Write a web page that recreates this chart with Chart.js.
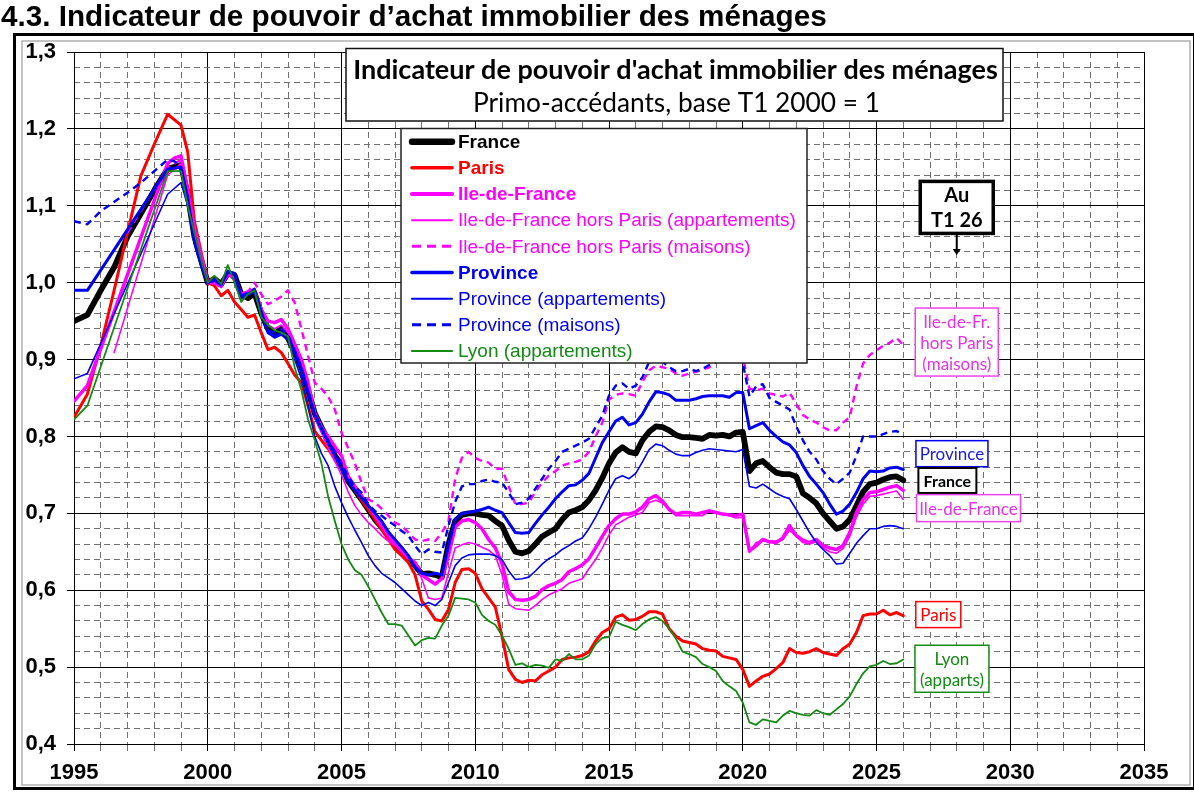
<!DOCTYPE html>
<html><head><meta charset="utf-8">
<script src="https://cdn.jsdelivr.net/npm/chart.js@4.4.1/dist/chart.umd.min.js"></script>
<style>html,body{margin:0;padding:0;background:#fff;overflow:hidden}#wrap{width:1194px;height:796px;position:relative}</style>
</head><body><div id="wrap"><canvas id="c" width="1194" height="796"></canvas></div>
<script>
const N = null;
// x positions: quarters T1 1995 ... T1 2026 (decimal years)
const firstYear = 1995, lastYear = 2026;
const quarters = [];
for (let y = firstYear; y <= lastYear; y++) for (let q = 0; q < 4; q++) { if (y === lastYear && q > 0) break; quarters.push(y + q / 4); }

const seriesNames = ['France','Paris','Ile-de-France','Ile-de-France hors Paris (appartements)','Ile-de-France hors Paris (maisons)','Province','Province (appartements)','Province (maisons)','Lyon (appartements)'];

const france = [
 0.950,N,0.958,N, 0.990,N,1.020,N, 1.060,N,1.090,N, 1.120,N,1.148,N,
 1.153,1.115,1.060,1.030, 1.000,1.005,0.998,1.012, 1.010,0.985,0.980,0.986, 0.960,0.940,0.933,0.940,
 0.928,0.910,0.890,0.860, 0.830,0.812,0.795,0.775, 0.762,0.742,0.730,0.718, 0.705,0.692,0.682,0.671,
 0.662,0.650,0.640,0.632, 0.621,0.622,0.620,0.617, 0.660,0.690,0.698,0.700, 0.700,0.698,0.697,0.690,
 0.684,0.665,0.650,0.648, 0.651,0.660,0.670,0.675, 0.680,0.692,0.701,0.704, 0.708,0.717,0.730,0.746,
 0.765,0.779,0.786,0.780, 0.778,0.795,0.806,0.813, 0.812,0.808,0.802,0.799, 0.799,0.798,0.797,0.802,
 0.801,0.802,0.800,0.805, 0.806,0.755,0.765,0.768, 0.760,0.753,0.751,0.751, 0.748,0.726,0.720,0.713,
 0.700,0.690,0.680,0.683, 0.692,0.710,0.728,0.738, 0.740,0.744,0.747,0.748, 0.743];
const paris = [
 0.825,N,0.855,N, 0.918,N,0.990,N, 1.065,N,1.139,N, 1.180,N,1.219,N,
 1.205,1.170,1.080,1.040, 1.000,0.996,0.983,0.990, 0.975,0.965,0.955,0.958, 0.935,0.913,0.916,0.909,
 0.895,0.880,0.870,0.840, 0.807,0.795,0.784,0.770, 0.758,0.745,0.730,0.717, 0.705,0.692,0.679,0.666,
 0.653,0.645,0.636,0.620, 0.586,0.575,0.562,0.560, 0.575,0.610,0.627,0.628, 0.622,0.602,0.590,0.578,
 0.540,0.497,0.484,0.480, 0.483,0.482,0.490,0.495, 0.500,0.510,0.512,0.513, 0.515,0.520,0.534,0.545,
 0.550,0.565,0.568,0.561, 0.562,0.566,0.572,0.572, 0.569,0.550,0.540,0.534, 0.532,0.530,0.524,0.522,
 0.521,0.514,0.512,0.510, 0.497,0.475,0.482,0.488, 0.491,0.498,0.506,0.524, 0.519,0.518,0.520,0.524,
 0.519,0.517,0.515,0.524, 0.530,0.545,0.567,0.569, 0.569,0.574,0.568,0.571, 0.567];
const ileDeFrance = [
 0.846,N,0.866,N, N,N,N,N, N,N,N,N, N,N,1.155,1.162,
 1.165,1.120,1.070,1.035, 1.000,1.000,0.995,1.012, 1.005,0.985,0.988,0.990, 0.965,0.950,0.948,0.952,
 0.940,0.920,0.900,0.870, 0.830,0.812,0.800,0.787, 0.775,0.748,0.735,0.723, 0.710,0.697,0.684,0.671,
 0.660,0.651,0.642,0.636, 0.620,0.614,0.608,0.615, 0.645,0.682,0.690,0.692, 0.688,0.680,0.666,0.655,
 0.635,0.598,0.588,0.587, 0.588,0.592,0.601,0.606, 0.609,0.614,0.624,0.628, 0.633,0.641,0.655,0.670,
 0.684,0.693,0.699,0.699, 0.702,0.708,0.719,0.723, 0.716,0.705,0.699,0.701, 0.701,0.699,0.701,0.703,
 0.701,0.699,0.698,0.697, 0.699,0.651,0.658,0.666, 0.663,0.662,0.668,0.684, 0.671,0.665,0.662,0.666,
 0.658,0.655,0.653,0.658, 0.675,0.701,0.718,0.727, 0.728,0.731,0.734,0.736, 0.730];
const idfAppart = [
 N,N,N,N, N,N,0.909,N, N,N,N,N, N,N,1.140,N,
 1.155,1.110,1.065,1.030, 1.000,1.000,0.996,1.010, 1.003,0.985,0.985,0.988, 0.962,0.945,0.940,0.945,
 0.935,0.915,0.895,0.865, 0.825,0.805,0.785,0.768, 0.750,0.728,0.710,0.698, 0.688,0.680,0.671,0.664,
 0.658,0.652,0.645,0.635, 0.615,0.590,0.588,0.590, 0.623,0.655,0.659,0.662, 0.660,0.656,0.652,0.645,
 0.620,0.582,0.576,0.575, 0.574,0.580,0.588,0.594, 0.598,0.602,0.609,0.612, 0.615,0.628,0.640,0.655,
 0.672,0.685,0.690,0.695, 0.698,0.701,0.714,0.717, 0.713,0.705,0.697,0.697, 0.697,0.697,0.697,0.703,
 0.701,0.699,0.697,0.694, 0.695,0.649,0.662,0.664, 0.664,0.664,0.666,0.678, 0.670,0.662,0.660,0.663,
 0.655,0.650,0.648,0.654, 0.670,0.695,0.712,0.722, 0.723,0.725,0.727,0.729, 0.718];
const idfMaisons = [
 N,N,N,N, N,N,N,N, 1.065,N,N,N, N,N,1.150,N,
 1.160,1.115,1.060,1.030, 1.000,1.003,0.996,1.010, 1.005,0.985,0.988,1.000, 0.985,0.972,0.976,0.982,
 0.990,0.974,0.940,0.905, 0.870,0.862,0.852,0.835, 0.805,0.785,0.765,0.740, 0.718,0.714,0.706,0.697,
 0.688,0.684,0.675,0.666, 0.664,0.666,0.664,0.675, 0.690,0.745,0.772,0.780, 0.772,0.768,0.766,0.758,
 0.758,0.735,0.712,0.712, 0.714,0.728,0.740,0.749, 0.755,0.762,0.765,0.767, 0.770,0.780,0.800,0.818,
 0.848,0.854,0.856,0.855, 0.853,0.871,0.886,0.892, 0.890,0.888,0.882,0.879, 0.882,0.884,0.887,0.890,
 0.897,0.900,0.900,0.902, 0.905,0.862,0.860,0.862, 0.856,0.854,0.852,0.857, 0.842,0.828,0.822,0.818,
 0.812,0.808,0.808,0.818, 0.825,0.865,0.895,0.906, 0.912,0.918,0.922,0.928, 0.919];
const province = [
 0.990,N,0.990,N, N,N,N,N, N,N,N,N, N,N,1.148,N,
 1.150,1.110,1.055,1.025, 1.000,1.004,0.998,1.015, 1.012,0.980,0.985,0.990, 0.962,0.935,0.930,0.935,
 0.930,0.910,0.888,0.858, 0.828,0.810,0.793,0.775, 0.758,0.742,0.730,0.720, 0.710,0.700,0.690,0.676,
 0.666,0.656,0.645,0.630, 0.622,0.620,0.622,0.620, 0.658,0.692,0.700,0.701, 0.703,0.705,0.708,0.704,
 0.701,0.688,0.675,0.674, 0.675,0.687,0.698,0.708, 0.719,0.728,0.736,0.737, 0.743,0.752,0.772,0.792,
 0.806,0.820,0.825,0.815, 0.818,0.829,0.845,0.858, 0.857,0.854,0.847,0.847, 0.847,0.849,0.852,0.853,
 0.853,0.853,0.851,0.857, 0.857,0.810,0.814,0.818, 0.808,0.800,0.793,0.789, 0.779,0.762,0.748,0.738,
 0.727,0.712,0.699,0.703, 0.712,0.727,0.745,0.755, 0.754,0.755,0.759,0.760, 0.757];
const provAppart = [
 0.875,N,0.882,N, N,N,N,N, N,N,N,N, N,N,1.115,N,
 1.130,1.100,1.050,1.020, 1.000,1.002,0.996,1.012, 1.012,0.980,0.983,0.988, 0.960,0.935,0.928,0.932,
 0.925,0.900,0.875,0.840, 0.800,0.778,0.762,0.735, 0.714,0.695,0.678,0.662, 0.645,0.632,0.622,0.616,
 0.610,0.602,0.594,0.586, 0.580,0.584,0.580,0.588, 0.610,0.632,0.642,0.646, 0.647,0.647,0.647,0.645,
 0.640,0.625,0.614,0.615, 0.617,0.625,0.634,0.641, 0.646,0.653,0.658,0.664, 0.668,0.680,0.695,0.712,
 0.730,0.745,0.749,0.745, 0.752,0.767,0.783,0.790, 0.788,0.782,0.777,0.775, 0.775,0.779,0.782,0.784,
 0.783,0.782,0.781,0.780, 0.783,0.735,0.733,0.738, 0.732,0.726,0.722,0.719, 0.705,0.690,0.675,0.662,
 0.653,0.645,0.634,0.635, 0.648,0.661,0.671,0.680, 0.680,0.683,0.684,0.683, 0.680];
const provMaisons = [
 1.080,N,1.076,N, 1.093,N,N,N, 1.117,N,1.130,N, N,N,1.160,1.158,
 1.150,1.110,1.055,1.025, 1.000,1.004,0.998,1.015, 1.012,0.983,0.987,0.992, 0.962,0.938,0.935,0.940,
 0.932,0.912,0.890,0.860, 0.830,0.812,0.795,0.780, 0.765,0.748,0.735,0.727, 0.712,0.703,0.697,0.690,
 0.684,0.677,0.671,0.658, 0.647,0.653,0.650,0.649, 0.684,0.715,0.735,0.738, 0.738,0.742,0.744,0.741,
 0.740,0.727,0.712,0.714, 0.719,0.732,0.745,0.758, 0.768,0.780,0.784,0.788, 0.792,0.797,0.812,0.827,
 0.853,0.866,0.869,0.862, 0.866,0.877,0.897,0.905, 0.897,0.890,0.885,0.885, 0.888,0.885,0.888,0.893,
 0.897,0.900,0.900,0.905, 0.896,0.852,0.865,0.868, 0.850,0.845,0.840,0.835, 0.813,0.795,0.780,0.770,
 0.755,0.745,0.738,0.745, 0.753,0.775,0.800,0.800, 0.800,0.803,0.806,0.807, 0.803];
const lyonAppart = [
 0.822,N,0.840,N, N,N,N,N, N,N,N,N, N,N,1.145,N,
 1.145,1.100,1.065,1.030, 1.000,1.009,0.998,1.023, 1.000,0.975,0.985,0.990, 0.955,0.945,0.938,0.935,
 0.930,0.890,0.860,0.822, 0.795,0.765,0.722,0.690, 0.660,0.640,0.626,0.620, 0.605,0.588,0.571,0.556,
 0.556,0.554,0.541,0.528, 0.535,0.538,0.537,0.554, 0.567,0.590,0.589,0.588, 0.584,0.568,0.560,0.555,
 0.541,0.524,0.503,0.505, 0.500,0.503,0.502,0.499, 0.510,0.508,0.517,0.510, 0.510,0.515,0.530,0.538,
 0.539,0.559,0.555,0.552, 0.548,0.556,0.562,0.565, 0.560,0.550,0.537,0.520, 0.517,0.513,0.504,0.500,
 0.495,0.482,0.475,0.469, 0.454,0.428,0.425,0.432, 0.430,0.428,0.437,0.443, 0.440,0.438,0.437,0.444,
 0.440,0.438,0.445,0.452, 0.462,0.478,0.492,0.501, 0.503,0.508,0.504,0.505, 0.510];

const seriesValues = [france, paris, ileDeFrance, idfAppart, idfMaisons, province, provAppart, provMaisons, lyonAppart];

// tick labels
const xTickYears = [1995, 2000, 2005, 2010, 2015, 2020, 2025, 2030, 2035];
const yTickValues = [0.4, 0.5, 0.6, 0.7, 0.8, 0.9, 1.0, 1.1, 1.2, 1.3];

// styles (kept apart from the data)
const RED = '#ff0000', MAG = '#ff00ff', BLUE = '#0000f0', GREEN = '#138a13', BLK = '#000000';
const styles = [
  {color: BLK, width: 5.8, dash: [], legW: 6.5, bold: true},
  {color: RED, width: 3, dash: [], legW: 3.5, bold: true},
  {color: MAG, width: 3.5, dash: [], legW: 4, bold: true},
  {color: MAG, width: 1.6, dash: [], legW: 2, bold: false},
  {color: MAG, width: 2.4, dash: [7, 5], legW: 3, bold: false, legDash: [9, 6]},
  {color: BLUE, width: 3, dash: [], legW: 3.5, bold: true},
  {color: BLUE, width: 1.6, dash: [], legW: 2, bold: false},
  {color: BLUE, width: 2.4, dash: [7, 5], legW: 3, bold: false, legDash: [9, 6]},
  {color: GREEN, width: 1.8, dash: [], legW: 2.2, bold: false}
];

const annotations = [
  {lines: ['Au', 'T1 26'], x: 2028, yTop: 1.1317, w: 73, h: 52, color: BLK, text: BLK, bw: 3.5, font: 'bold 20px Lato', lh: 25},
  {lines: ['Ile-de-Fr.', 'hors Paris', '(maisons)'], x: 2028, yTop: 0.967, w: 83, h: 68, color: '#ee44ee', text: '#e633e6', bw: 1.5, font: '17px Lato', lh: 21},
  {lines: ['Province'], x: 2027.82, yTop: 0.7945, w: 72, h: 26, color: BLUE, text: '#1a1ae0', bw: 1.5, font: '17px Lato', lh: 20},
  {lines: ['France'], x: 2027.65, yTop: 0.759, w: 58, h: 25, color: BLK, text: BLK, bw: 2, font: 'bold 16px Lato', lh: 20},
  {lines: ['Ile-de-France'], x: 2028.44, yTop: 0.7243, w: 104, h: 27, color: '#ee44ee', text: '#e633e6', bw: 1.5, font: '17px Lato', lh: 20},
  {lines: ['Paris'], x: 2027.31, yTop: 0.5852, w: 45, h: 26, color: RED, text: RED, bw: 1.5, font: '17px Lato', lh: 20},
  {lines: ['Lyon', '(apparts)'], x: 2027.82, yTop: 0.5284, w: 74, h: 47, color: GREEN, text: GREEN, bw: 1.5, font: '17px Lato', lh: 21}
];

function fitSize(ctx, text, weight, family, target) {
  ctx.font = weight + ' 40px ' + family;
  return 40 * target / ctx.measureText(text).width;
}

const deco = {
  id: 'deco',
  beforeDraw(chart) {
    const ctx = chart.ctx;
    ctx.save();
    ctx.fillStyle = '#fff'; ctx.fillRect(0, 0, chart.width, chart.height);
    // frames
    ctx.strokeStyle = '#b0b0b0'; ctx.lineWidth = 1.5;
    ctx.strokeRect(22, 41, 1168, 744);
    ctx.strokeStyle = '#000'; ctx.lineWidth = 3;
    ctx.strokeRect(14.5, 34.5, 1180, 754);
    // page title
    const t = '4.3. Indicateur de pouvoir d\u2019achat immobilier des ménages';
    const s = fitSize(ctx, t, 'bold', '"Liberation Sans", Arial, sans-serif', 826);
    ctx.font = 'bold ' + s.toFixed(2) + 'px "Liberation Sans", Arial, sans-serif';
    ctx.fillStyle = '#000'; ctx.textBaseline = 'alphabetic'; ctx.textAlign = 'left';
    ctx.fillText(t, 1, 26);
    ctx.restore();
  },
  afterDatasetsDraw(chart) {
    const ctx = chart.ctx, xs = chart.scales.x, ys = chart.scales.y;
    ctx.save();
    // title box
    ctx.fillStyle = '#fff'; ctx.fillRect(346, 48.5, 657, 72.5);
    ctx.strokeStyle = '#111'; ctx.lineWidth = 1.5; ctx.strokeRect(346, 48.5, 657, 72.5);
    const t1 = "Indicateur de pouvoir d'achat immobilier des ménages";
    const t2 = 'Primo-accédants, base T1 2000 = 1';
    let s1 = fitSize(ctx, t1, 'bold', 'Lato', 645);
    ctx.font = 'bold ' + s1.toFixed(2) + 'px Lato'; ctx.fillStyle = '#000'; ctx.textAlign = 'center'; ctx.textBaseline = 'alphabetic';
    ctx.fillText(t1, 675.5, 78.5);
    let s2 = fitSize(ctx, t2, 'normal', 'Lato', 407);
    ctx.font = s2.toFixed(2) + 'px Lato';
    ctx.fillText(t2, 676.5, 111.5);
    // legend box
    const lx = 401, ly = 128.5, lw = 406, lh = 234.5;
    ctx.fillStyle = '#fff'; ctx.fillRect(lx, ly, lw, lh);
    ctx.strokeStyle = '#222'; ctx.lineWidth = 1.5; ctx.strokeRect(lx, ly, lw, lh);
    ctx.textAlign = 'left'; ctx.textBaseline = 'middle';
    seriesNames.forEach((name, i) => {
      const st = styles[i]; const cy = 141.7 + i * 26.16;
      ctx.beginPath(); ctx.setLineDash(st.legDash || []); ctx.lineCap = st.legDash ? 'butt' : 'round';
      ctx.strokeStyle = st.color; ctx.lineWidth = st.legW;
      ctx.moveTo(412, cy); ctx.lineTo(452, cy); ctx.stroke();
      ctx.setLineDash([]);
      ctx.font = (st.bold ? 'bold ' : '') + '19px "Liberation Sans", Arial, sans-serif';
      ctx.fillStyle = st.color;
      ctx.fillText(name, 458, cy + 1);
    });
    // annotation boxes
    annotations.forEach(a => {
      const cx = xs.getPixelForValue(a.x), top = ys.getPixelForValue(a.yTop);
      const left = cx - a.w / 2;
      ctx.fillStyle = '#fff'; ctx.fillRect(left, top, a.w, a.h);
      ctx.strokeStyle = a.color; ctx.lineWidth = a.bw; ctx.strokeRect(left, top, a.w, a.h);
      ctx.font = a.font; ctx.fillStyle = a.text; ctx.textAlign = 'center'; ctx.textBaseline = 'middle';
      const n = a.lines.length; const mid = top + a.h / 2;
      a.lines.forEach((ln, k) => ctx.fillText(ln, cx, mid + (k - (n - 1) / 2) * a.lh + 1));
    });
    // arrow under "Au T1 26"
    const ax = xs.getPixelForValue(2028);
    const a0 = ys.getPixelForValue(1.1317) + 52, a1 = ys.getPixelForValue(1.036);
    ctx.strokeStyle = '#000'; ctx.lineWidth = 2; ctx.beginPath(); ctx.moveTo(ax, a0); ctx.lineTo(ax, a1 - 5); ctx.stroke();
    ctx.fillStyle = '#000'; ctx.beginPath(); ctx.moveTo(ax - 4, a1 - 6); ctx.lineTo(ax + 4, a1 - 6); ctx.lineTo(ax, a1); ctx.closePath(); ctx.fill();
    ctx.restore();
  }
};

const datasets = seriesValues.map((vals, i) => ({
  label: seriesNames[i],
  data: quarters.map((q, k) => ({x: q, y: vals[k]})),
  borderColor: styles[i].color,
  backgroundColor: styles[i].color,
  borderWidth: styles[i].width,
  borderDash: styles[i].dash,
  borderJoinStyle: 'round',
  borderCapStyle: styles[i].dash.length ? 'butt' : 'round',
  pointRadius: 0,
  tension: 0,
  spanGaps: true,
  fill: false,
  order: 8 - i
}));

const tickFont = {family: '"Liberation Sans", Arial, sans-serif', size: 22, weight: 'bold'};
const GRID_GRAY = '#707070';
const minorX = ctx => (Math.abs(ctx.tick.value - Math.round(ctx.tick.value / 5) * 5) < 1e-6 ? 'rgba(0,0,0,0)' : GRID_GRAY);
const minorY = ctx => (Math.round(ctx.tick.value * 50) % 5 === 0 ? 'rgba(0,0,0,0)' : GRID_GRAY);

new Chart(document.getElementById('c'), {
  type: 'line',
  data: {datasets},
  plugins: [deco],
  options: {
    responsive: false,
    animation: false,
    layout: {padding: {left: 0, top: 52, right: 50, bottom: 12}},
    plugins: {legend: {display: false}, tooltip: {enabled: false}, title: {display: false}},
    scales: {
      xMinor: {
        type: 'linear', axis: 'x', position: 'bottom', min: 1995, max: 2035, weight: 0,
        ticks: {stepSize: 1, display: false},
        grid: {color: minorX, lineWidth: 1, drawTicks: true, tickLength: 7, tickColor: minorX, borderDash: [6, 4]},
        border: {display: false, dash: [6, 4]},
        afterFit: s => { s.height = 0; }
      },
      x: {
        type: 'linear', position: 'bottom', min: 1995, max: 2035, weight: 1,
        afterBuildTicks: s => { s.ticks = xTickYears.map(v => ({value: v})); },
        ticks: {stepSize: 5, font: tickFont, color: '#000', padding: 9, maxRotation: 0, autoSkip: false, callback: v => String(v)},
        grid: {color: '#000', lineWidth: 1, drawTicks: true, tickLength: 7, tickColor: '#000'},
        border: {display: true, color: '#000', width: 1},
        afterFit: s => { s.height = 40; }
      },
      yMinor: {
        type: 'linear', axis: 'y', position: 'left', min: 0.4, max: 1.3, weight: 0,
        ticks: {stepSize: 0.02, display: false},
        grid: {color: minorY, lineWidth: 1, drawTicks: false, borderDash: [6, 4]},
        border: {display: false, dash: [6, 4]},
        afterFit: s => { s.width = 0; }
      },
      y: {
        type: 'linear', position: 'left', min: 0.4, max: 1.3, weight: 1,
        afterBuildTicks: s => { s.ticks = yTickValues.map(v => ({value: v})); },
        ticks: {stepSize: 0.1, font: tickFont, color: '#000', padding: 11, autoSkip: false,
          callback: v => v.toFixed(1).replace('.', ',')},
        grid: {color: '#000', lineWidth: 1, drawTicks: true, tickLength: 7, tickColor: '#000'},
        border: {display: true, color: '#000', width: 1},
        afterFit: s => { s.width = 74; }
      }
    }
  }
});
</script></body></html>
